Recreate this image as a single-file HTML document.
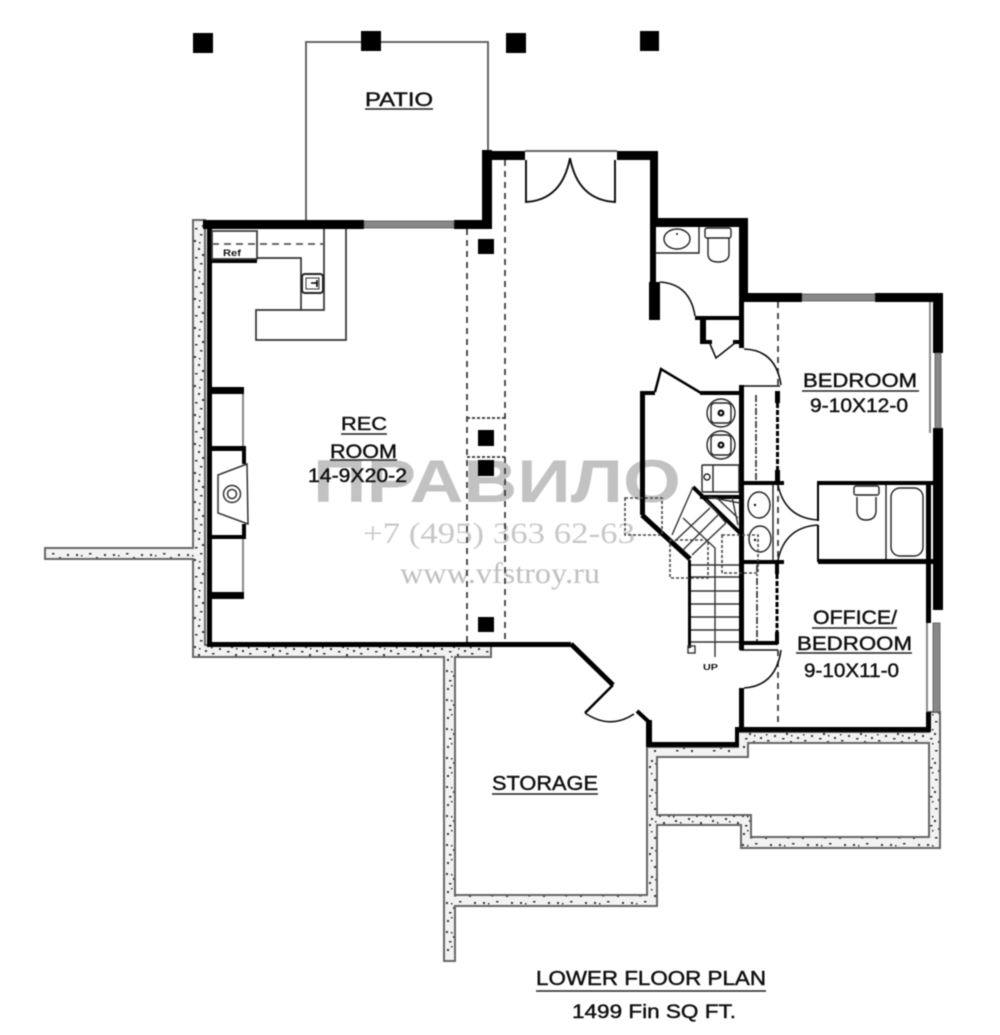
<!DOCTYPE html>
<html><head><meta charset="utf-8"><style>
html,body{margin:0;padding:0;background:#fff}
svg{display:block;filter:blur(.45px)}
text{font-family:"Liberation Sans",sans-serif;fill:#111}
.t text{stroke:#111;stroke-width:.45}
</style></head><body>
<svg width="1000" height="1035" viewBox="0 0 1000 1035" xmlns="http://www.w3.org/2000/svg">
<defs>
<pattern id="sp" width="37" height="29" patternUnits="userSpaceOnUse">
<rect width="37" height="29" fill="#f2f2f2"/>
<g fill="#333"><rect x="2" y="3" width="2" height="2"/><rect x="9" y="8" width="2" height="2"/><rect x="15" y="2" width="2.5" height="1.5"/><rect x="22" y="6" width="2" height="2"/><rect x="30" y="3" width="2" height="2"/><rect x="5" y="13" width="2.5" height="1.5"/><rect x="13" y="16" width="2" height="2"/><rect x="20" y="12" width="2" height="2"/><rect x="27" y="15" width="2.5" height="1.5"/><rect x="34" y="10" width="2" height="2"/><rect x="3" y="21" width="2" height="2"/><rect x="10" y="25" width="2.5" height="1.5"/><rect x="17" y="22" width="2" height="2"/><rect x="25" y="25" width="2" height="2"/><rect x="32" y="20" width="2" height="2"/><rect x="7" y="4" width="1.5" height="1.5"/><rect x="26" y="9" width="1.5" height="1.5"/><rect x="14" y="10" width="1.5" height="1.5"/><rect x="22" y="19" width="1.5" height="1.5"/><rect x="7" y="18" width="1.5" height="1.5"/></g>
</pattern>
</defs>

<!-- watermark -->
<g>
<text x="313" y="502" font-size="60" font-weight="bold" textLength="368" lengthAdjust="spacingAndGlyphs" style="fill:#c2c2c2">ПРАВИЛО</text>
<text x="363" y="543" font-size="30" textLength="272" lengthAdjust="spacingAndGlyphs" style="font-family:'Liberation Serif',serif;fill:#c8c8c8">+7 (495) 363 62-63</text>
<text x="400" y="583" font-size="30" textLength="200" lengthAdjust="spacingAndGlyphs" style="font-family:'Liberation Serif',serif;fill:#c0c0c0">www.vfstroy.ru</text>
</g>

<!-- foundation -->
<path fill="url(#sp)" fill-rule="evenodd" stroke="#666" stroke-width="2" d="M193 220 L205 220 L205 645 L491 645 L491 657 L455 657 L455 895 L647 895 L647 747 L738 747 L738 732 L929 732 L929 712 L940 712 L940 848 L741 848 L741 825 L657 825 L657 906 L455 906 L455 961 L444 961 L444 657 L193 657 L193 559 L45 559 L45 548 L193 548 Z M657 757 L748 757 L748 743 L929 743 L929 837 L751 837 L751 815 L657 815 Z"/>

<!-- patio -->
<path d="M306 220 V42 H488 V151" fill="none" stroke="#555" stroke-width="1.8"/>

<!-- columns -->
<g fill="#000">
<rect x="193" y="33" width="20" height="20"/><rect x="361" y="31" width="20" height="20"/><rect x="506" y="33" width="20" height="20"/><rect x="640" y="31" width="19" height="20"/>
<rect x="478" y="239" width="16" height="15"/><rect x="478" y="430" width="16" height="16"/><rect x="478" y="460" width="16" height="16"/><rect x="478" y="617" width="16" height="15"/>
</g>

<!-- dashed beams -->
<g fill="none" stroke="#333" stroke-width="1.7" stroke-dasharray="6 5">
<path d="M467 229 V642"/><path d="M505 160 V642"/>
<path d="M778 302 V385"/><path d="M778 650 V727"/><path d="M778 485 V560"/>
</g>
<path d="M467 418 H505 M467 457 H505" stroke="#333" stroke-width="1.7" stroke-dasharray="3 2" fill="none"/>

<!-- thick walls -->
<g fill="#000">
<rect x="203" y="220" width="161" height="9"/>
<rect x="454" y="220" width="38" height="9"/>
<rect x="482" y="150" width="10" height="79"/>
<rect x="482" y="151" width="43" height="9"/>
<rect x="617" y="151" width="41" height="9"/>
<rect x="650" y="151" width="8" height="76"/>
<rect x="650" y="218" width="98" height="9"/>
<rect x="739" y="218" width="9" height="84"/>
<rect x="739" y="293" width="63" height="9"/>
<rect x="875" y="293" width="68" height="9"/>
<rect x="933" y="293" width="10" height="60"/>
<rect x="933" y="428" width="10" height="182"/>
<rect x="650" y="227" width="6" height="60"/>
<rect x="649" y="282" width="11" height="38"/>
<rect x="695" y="316" width="45" height="4"/>
<rect x="700" y="316" width="6" height="28"/>
<rect x="700" y="340" width="12" height="4"/>
<rect x="733" y="340" width="7" height="4"/>
<rect x="739" y="302" width="5" height="46"/>
<!-- rec room -->
<rect x="207" y="229" width="5" height="418"/>
<rect x="207" y="642" width="364" height="5"/>
<rect x="212" y="259" width="45" height="4"/>
<rect x="210" y="387" width="34" height="7"/>
<rect x="210" y="446" width="36" height="5"/>
<rect x="242" y="446" width="4" height="18"/>
<rect x="242" y="524" width="4" height="15"/>
<rect x="210" y="535" width="36" height="4"/>
<rect x="210" y="592" width="34" height="7"/>
<!-- centre -->
<rect x="640" y="391" width="5" height="124"/>
<rect x="640" y="391" width="15" height="4"/>
<rect x="700" y="391" width="44" height="4"/>
<rect x="739" y="385" width="5" height="265"/>
<rect x="775" y="391" width="5" height="12"/>
<rect x="775" y="470" width="5" height="14"/>
<rect x="740" y="481" width="44" height="4"/>
<rect x="740" y="560" width="44" height="4"/>
<rect x="775" y="564" width="4" height="10"/>
<rect x="775" y="632" width="4" height="12"/>
<rect x="740" y="641" width="38" height="4"/>
<rect x="818" y="481" width="115" height="4"/>
<rect x="818" y="559" width="115" height="5"/>
<rect x="926" y="481" width="5" height="142"/>
<rect x="926" y="712" width="5" height="20"/>
<rect x="735" y="727" width="196" height="5"/>
<rect x="735" y="727" width="4" height="20"/>
<rect x="646" y="742" width="93" height="5"/>
<rect x="646" y="720" width="6" height="27"/>
<rect x="739" y="688" width="5" height="42"/>
<rect x="700" y="495" width="40" height="4"/>
<rect x="688" y="560" width="3" height="88"/>
</g>
<g fill="none" stroke="#000">
<path d="M571 644 L613 685" stroke-width="5"/>
<path d="M613 685 L585 713" stroke-width="2.5"/>
<path d="M637 711 L650 723" stroke-width="4"/>
<path d="M642 515 L690 559" stroke-width="5"/>
<path d="M693 487 L740 533" stroke-width="4"/>
<path d="M655 392 L661 369 L701 393" stroke-width="2.5"/>
<path d="M818 481 V521 M818 525 V562" stroke-width="2"/>
</g>

<!-- windows -->
<g fill="#888" stroke="#555" stroke-width=".8">
<rect x="364" y="221" width="90" height="7"/>
<rect x="802" y="294" width="73" height="7"/>
<rect x="935" y="353" width="6" height="75"/>
<rect x="933" y="623" width="7" height="89"/>
</g>
<path d="M927 623 V712" stroke="#888" stroke-width="2"/>
<path d="M930 302 V353 V433" stroke="#888" stroke-width="2" fill="none"/>
<path d="M525 151 H617" stroke="#666" stroke-width="2"/>

<!-- doors -->
<g fill="none" stroke="#111" stroke-width="1.6">
<path d="M526 160 V202 Q562 200 570 158" stroke-width="2"/>
<path d="M615 160 V202 Q578 200 570 158" stroke-width="2"/>
<path d="M660 282 Q690 284 695 316"/>
<path d="M744 349 Q776 350 781 385"/>
<path d="M744 688 Q776 686 781 650"/>
<path d="M778 485 Q785 518 818 520"/>
<path d="M778 560 Q785 527 818 525"/>
<path d="M585 713 Q610 730 634 714"/>
<path d="M710 344 L716 358 L735 343"/>
<path d="M744 386 H780 M740 650 H778"/>
</g>

<!-- kitchen -->
<g fill="none" stroke="#333" stroke-width="1.7">
<rect x="212" y="231" width="45" height="28"/>
<path d="M324 229 V310 H256 V340 H346 V229"/>
<path d="M257 258 H301 V310"/>
<path d="M212 244 H324" stroke-dasharray="7 5" stroke="#555"/>
<rect x="302" y="274" width="21" height="19" rx="3" stroke="#222" stroke-width="2"/>
<rect x="306" y="278" width="13" height="11" stroke-width="1"/>
<path d="M311 283 H318 M317 280 V287" stroke="#000" stroke-width="1.6"/>
</g>
<text x="223" y="256" font-size="9" font-weight="bold" textLength="18" lengthAdjust="spacingAndGlyphs">Ref</text>

<!-- fireplace -->
<g fill="none" stroke="#333" stroke-width="1.5">
<path d="M218 475 L247 464 L248 524 L218 513 Z"/>
<circle cx="232" cy="494" r="8.5"/><circle cx="232" cy="494" r="4.5"/>
<path d="M243 394 V446 M243 539 V592" stroke="#888" stroke-width="2"/>
</g>

<!-- fixtures -->
<g fill="none" stroke="#222" stroke-width="1.4">
<path d="M655 253 H699 V227"/>
<ellipse cx="677" cy="239" rx="13" ry="10"/>
<rect x="705" y="228" width="26" height="10" rx="2"/>
<path d="M708 238 V255 Q709 262 718 262 Q728 262 729 255 V238"/>
<circle cx="721" cy="413" r="14"/><rect x="711" y="403" width="20" height="20" rx="4"/>
<circle cx="721" cy="445" r="14"/><rect x="711" y="435" width="20" height="20" rx="4"/>
<rect x="702" y="465" width="37" height="27" rx="1"/>
<path d="M713 465 V492"/>
<circle cx="707" cy="477" r="3"/>
<ellipse cx="759" cy="505" rx="11" ry="13"/>
<ellipse cx="760" cy="539" rx="11" ry="13"/>
<path d="M773 485 V560"/>
<rect x="854" y="486" width="25" height="9" rx="2"/>
<path d="M857 497 V512 Q858 520 866 520 Q875 520 876 512 V497"/>
<path d="M886 485 V559"/>
<rect x="891" y="488" width="32" height="68" rx="9"/>
</g>
<g fill="#111">
<circle cx="721" cy="413" r="3.5"/><circle cx="721" cy="445" r="3.5"/>
<circle cx="677" cy="234" r="1"/><circle cx="755" cy="505" r="1.2"/><circle cx="755" cy="540" r="1.2"/>
</g>
<g fill="#fff"><circle cx="721" cy="413" r="1.2"/><circle cx="721" cy="445" r="1.2"/></g>

<!-- closets -->
<path d="M756 395 V481 M757 565 V641" stroke="#333" stroke-width="1.7" stroke-dasharray="7 2 2 2" fill="none"/>
<path d="M777.5 403 V470 M777 574 V632" stroke="#000" stroke-width="3" stroke-dasharray="5 2" fill="none"/>

<!-- stairs -->
<g fill="none" stroke="#333" stroke-width="1.4">
<path d="M691 565 H739 M691 577 H739 M691 591 H739 M691 604 H739 M691 617 H739 M691 630 H739 M691 642 H739"/>
<path d="M715 657 V548 L683 518"/>
<path d="M672 535 L693 487"/>
<path d="M675 541 L710 508 M683 550 L718 515 M692 555 L726 523 M708 497 L740 503 M706 500 L726 523 M716 497 L738 518 M732 497 L738 525"/>
<rect x="688" y="646" width="7" height="7"/>
</g>
<g fill="none" stroke="#444" stroke-width="1.6" stroke-dasharray="3 2">
<rect x="670" y="540" width="38" height="38"/>
<rect x="722" y="535" width="36" height="38"/>
<rect x="625" y="498" width="37" height="37"/>
</g>
<text x="703" y="670" font-size="8" font-weight="bold" textLength="15" lengthAdjust="spacingAndGlyphs">UP</text>

<!-- labels -->
<g class="t">
<text x="365" y="106" font-size="19" textLength="68" lengthAdjust="spacingAndGlyphs">PATIO</text>
<text x="341" y="430" font-size="18" textLength="46" lengthAdjust="spacingAndGlyphs">REC</text>
<text x="330" y="458" font-size="19" textLength="67" lengthAdjust="spacingAndGlyphs">ROOM</text>
<text x="308" y="482" font-size="19" textLength="99" lengthAdjust="spacingAndGlyphs">14-9X20-2</text>
<text x="803" y="387" font-size="19" textLength="114" lengthAdjust="spacingAndGlyphs">BEDROOM</text>
<text x="810" y="412" font-size="19" textLength="98" lengthAdjust="spacingAndGlyphs">9-10X12-0</text>
<text x="813" y="624" font-size="19" textLength="84" lengthAdjust="spacingAndGlyphs">OFFICE/</text>
<text x="797" y="650" font-size="19" textLength="115" lengthAdjust="spacingAndGlyphs">BEDROOM</text>
<text x="804" y="677" font-size="19" textLength="95" lengthAdjust="spacingAndGlyphs">9-10X11-0</text>
<text x="492" y="790" font-size="20" textLength="106" lengthAdjust="spacingAndGlyphs">STORAGE</text>
<text x="536" y="985" font-size="20" textLength="230" lengthAdjust="spacingAndGlyphs">LOWER FLOOR PLAN</text>
<text x="572" y="1018" font-size="19" textLength="164" lengthAdjust="spacingAndGlyphs">1499 Fin SQ FT.</text>
</g>
<g stroke="#222" stroke-width="1.6">
<path d="M365 109 H433 M341 434 H387 M330 460 H397 M802 391 H919 M812 628 H897 M796 653 H912 M492 794 H598 M536 991 H766"/>
</g>
</svg>
</body></html>
